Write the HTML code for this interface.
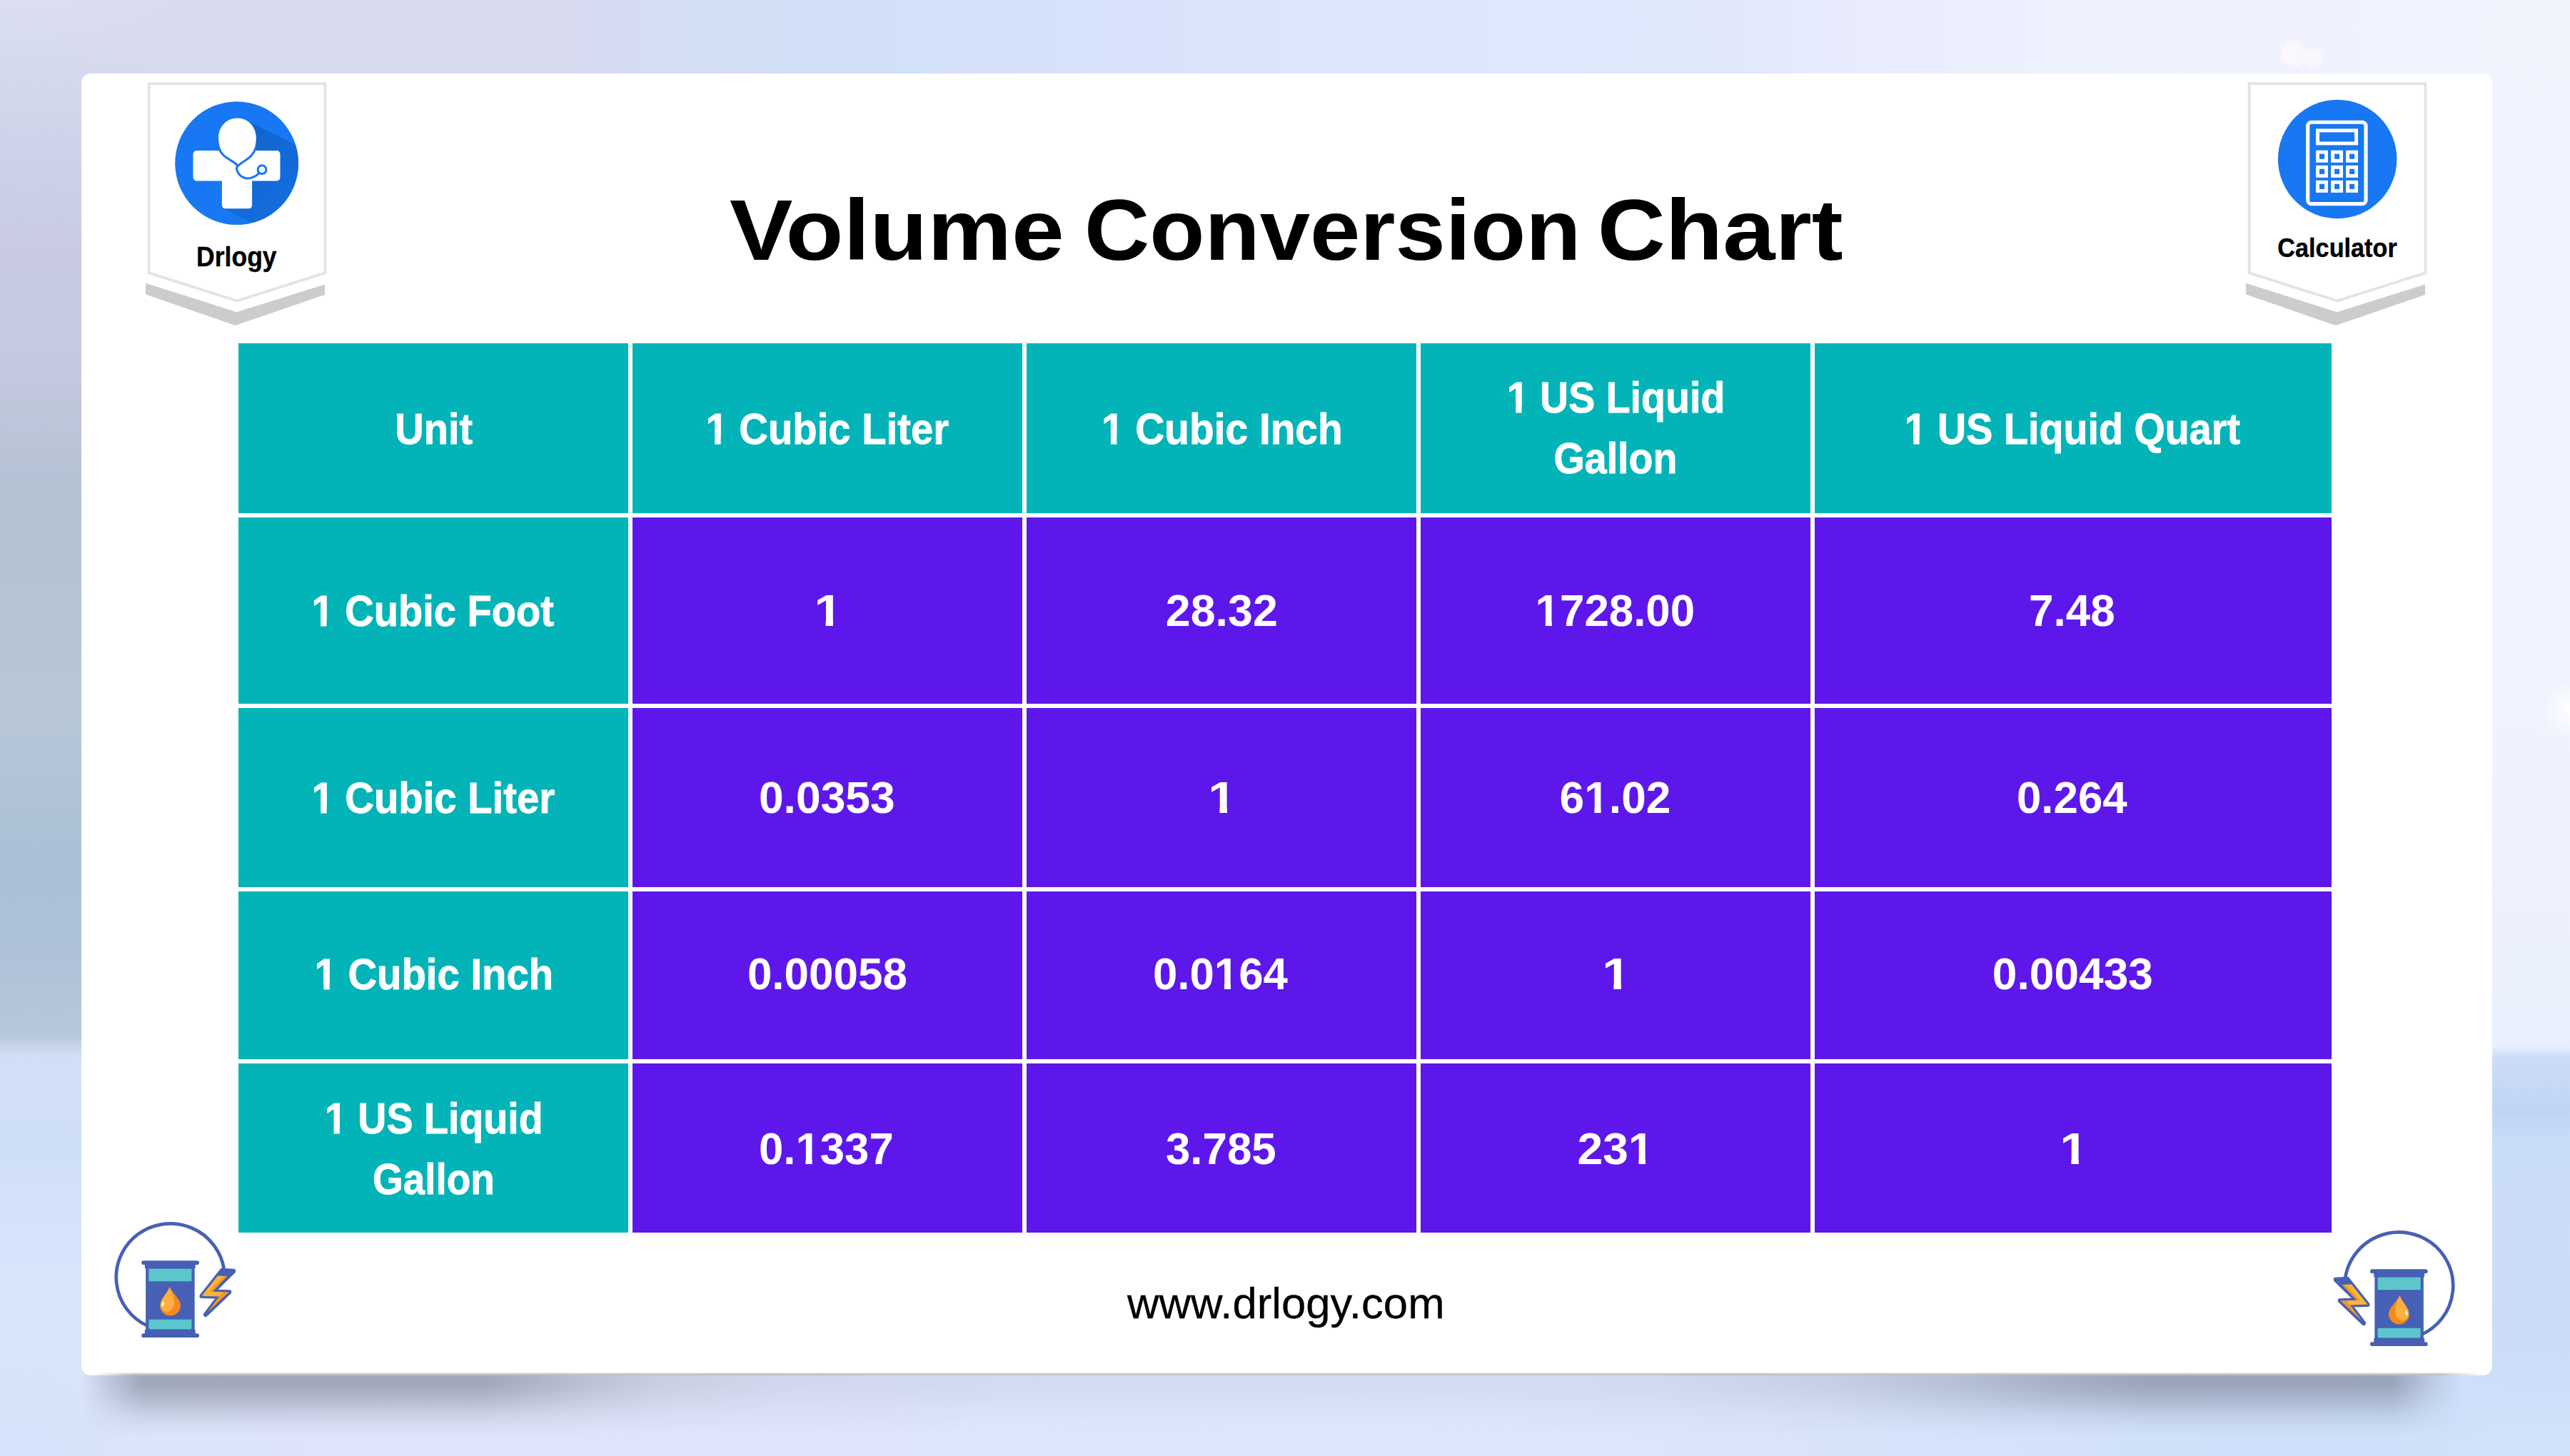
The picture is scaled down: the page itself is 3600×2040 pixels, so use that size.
<!DOCTYPE html>
<html>
<head>
<meta charset="utf-8">
<title>Volume Conversion Chart</title>
<style>
html,body{margin:0;padding:0;}
body{width:3600px;height:2040px;font-family:"Liberation Sans",sans-serif;}
#page{position:relative;width:3600px;height:2040px;overflow:hidden;background:#e4e9fa;}
.abs{position:absolute;}
#bgR{left:0;top:0;width:3600px;height:2040px;
 background:linear-gradient(to bottom,#f1f3fd 0px,#f0f3fe 1020px,#ebf0fd 1400px,#e9effd 1465px,#cbdcf8 1482px,#c6d9f6 1520px,#bfd4f4 1555px,#c9dcf8 1600px,#cbddf9 1750px,#c9dbf8 1850px,#cedffa 1950px,#d4e3fb 2040px);}
#bgL{left:0;top:0;width:1800px;height:2040px;
 background:linear-gradient(to bottom,#dcdff2 0px,#cfd3e9 200px,#c8cbe2 350px,#c6cae0 500px,#bcc5d9 600px,#b3c1d3 700px,#b7c7d8 1000px,#abc0d6 1200px,#adc1d7 1320px,#b6c6da 1420px,#b9c9dc 1452px,#d0ddf5 1478px,#d3e0f8 1500px,#cfdef8 1600px,#d9e5fb 1800px,#d6e3fa 2040px);}
#bgT{left:0;top:0;width:3600px;height:112px;
 background:linear-gradient(to right,rgba(216,218,240,0) 0px,rgba(216,218,240,0) 60px,#d8daf0 300px,#d8daf0 800px,#d5ddf3 900px,#d3e0f6 1000px,#d2e0f8 1250px,#d8e3fb 1600px,#dde6fc 1900px,#e2e9fd 2450px,#e9ecfd 2600px,#eef1fe 2900px,#f0f2fe 3300px,rgba(241,243,254,0) 3540px);}
#bgB{left:0;top:1915px;width:3600px;height:125px;
 background:linear-gradient(to right,rgba(220,229,250,0) 0px,rgba(220,229,250,0) 60px,#dce5fa 250px,#e0e4fa 600px,#e0e5fb 1100px,#dde7fc 1500px,#dee6fb 2200px,#d6e3fa 2700px,#d0e0fa 3100px,#cfe0fa 3350px,rgba(207,224,250,0) 3540px);}
#blob1{left:3194px;top:56px;width:36px;height:38px;border-radius:50%;background:#faf8fc;filter:blur(2.5px);}
#blob2{left:3226px;top:67px;width:27px;height:27px;border-radius:50%;background:#faf8fc;filter:blur(2.5px);}
#shadow{left:114px;top:1922px;width:3377px;height:95px;
 background:linear-gradient(to bottom,rgba(90,95,112,.47) 0px,rgba(90,95,112,.45) 20px,rgba(90,95,112,.31) 40px,rgba(90,95,112,.15) 60px,rgba(90,95,112,.04) 80px,rgba(90,95,112,0) 92px);
 -webkit-mask-image:linear-gradient(to right,rgba(0,0,0,0) 0px,rgba(0,0,0,.35) 30px,#000 85px,#000 560px,rgba(0,0,0,.6) 700px,rgba(0,0,0,.36) 810px,rgba(0,0,0,.22) 980px,rgba(0,0,0,.16) 1500px,rgba(0,0,0,.18) 2200px,rgba(0,0,0,.32) 2450px,rgba(0,0,0,.55) 2620px,rgba(0,0,0,.8) 2760px,#000 2900px,#000 3235px,rgba(0,0,0,.35) 3292px,rgba(0,0,0,0) 3335px);mask-image:linear-gradient(to right,rgba(0,0,0,0) 0px,rgba(0,0,0,.35) 30px,#000 85px,#000 560px,rgba(0,0,0,.6) 700px,rgba(0,0,0,.36) 810px,rgba(0,0,0,.22) 980px,rgba(0,0,0,.16) 1500px,rgba(0,0,0,.18) 2200px,rgba(0,0,0,.32) 2450px,rgba(0,0,0,.55) 2620px,rgba(0,0,0,.8) 2760px,#000 2900px,#000 3235px,rgba(0,0,0,.35) 3292px,rgba(0,0,0,0) 3335px);}
#cardedge{left:128px;top:1922.5px;width:3349px;height:4.5px;background:linear-gradient(to bottom,rgba(150,150,165,0),rgba(150,150,165,.5) 40%,rgba(150,150,170,.65));
 -webkit-mask-image:linear-gradient(to right,rgba(0,0,0,0) 0px,#000 60px,#000 3290px,rgba(0,0,0,0) 3349px);mask-image:linear-gradient(to right,rgba(0,0,0,0) 0px,#000 60px,#000 3290px,rgba(0,0,0,0) 3349px);}
#card{left:114px;top:103px;width:3377px;height:1824px;background:#fff;border-radius:13px;}
.cell{position:absolute;display:flex;align-items:center;justify-content:center;color:#fff;font-weight:bold;font-size:63px;line-height:84.5px;text-align:center;white-space:nowrap;}
.teal{background:#02b4b8;}
.purp{background:#5e17eb;}
.t{display:inline-block;transform-origin:50% 50%;}
#title{left:0;top:240px;width:3600px;text-align:center;font-weight:bold;font-size:120px;line-height:160px;color:#000;white-space:nowrap;}
#url{left:0;top:1790px;width:3600px;text-align:center;font-size:61px;line-height:80px;color:#000;white-space:nowrap;}
.lbl{position:absolute;font-weight:bold;font-size:36.5px;line-height:44px;color:#000;text-align:center;white-space:nowrap;}
#glowR{left:3560px;top:955px;width:80px;height:80px;border-radius:50%;background:radial-gradient(closest-side,rgba(255,255,255,.95) 0%,rgba(255,255,255,.6) 40%,rgba(255,255,255,0) 100%);}
.one{display:inline-block;-webkit-clip-path:polygon(0 0,100% 0,100% calc(42.25px + 0.205em),0.3756em calc(42.25px + 0.205em),0.3756em 100%,0.2284em 100%,0.2284em calc(42.25px + 0.205em),0 calc(42.25px + 0.205em));clip-path:polygon(0 0,100% 0,100% calc(42.25px + 0.205em),0.3756em calc(42.25px + 0.205em),0.3756em 100%,0.2284em 100%,0.2284em calc(42.25px + 0.205em),0 calc(42.25px + 0.205em));}
</style>
</head>
<body>
<div id="page">
<div id="bgR" class="abs"></div>
<div id="bgL" class="abs"></div>
<div id="bgT" class="abs"></div>
<div id="bgB" class="abs"></div>
<div id="glowR" class="abs"></div><div id="blob1" class="abs"></div><div id="blob2" class="abs"></div>
<div id="shadow" class="abs"></div>
<div id="card" class="abs"></div>
<div id="cardedge" class="abs"></div>
<!-- BADGES -->
<svg class="abs" style="left:190px;top:100px" width="300" height="370" viewBox="190 100 300 370">
 <polygon points="204.1,396.7 331.5,437.3 455,398.4 455,413 331,455.6 328,455.6 204.1,412.5" fill="#ccccce"/>
 <path d="M208.6,117.2 H455.5 V382.4 L331.95,421.5 L208.6,382.4 Z" fill="#fff" stroke="#e3e3e4" stroke-width="3.8"/>
</svg>
<svg class="abs" style="left:3132px;top:100px" width="300" height="370" viewBox="190 100 300 370">
 <polygon points="204.1,396.7 331.5,437.3 455,398.4 455,413 331,455.6 328,455.6 204.1,412.5" fill="#ccccce"/>
 <path d="M208.6,117.2 H455.5 V382.4 L331.95,421.5 L208.6,382.4 Z" fill="#fff" stroke="#e3e3e4" stroke-width="3.8"/>
</svg>
<!-- Drlogy logo -->
<svg class="abs" style="left:240px;top:135px" width="185" height="185" viewBox="0 0 1456 1456">
 <defs><clipPath id="lc"><circle cx="721" cy="737" r="680"/></clipPath><linearGradient id="lsh" gradientUnits="userSpaceOnUse" x1="760" y1="560" x2="1380" y2="1180"><stop offset="0" stop-color="#1165cf"/><stop offset="1" stop-color="#146de0"/></linearGradient></defs>
 <circle cx="721" cy="737" r="680" fill="#1877f2"/>
 <polygon clip-path="url(#lc)" points="880,290 1456,580 1456,1456 1000,1456 565,1228" fill="url(#lsh)"/>
 <rect x="240" y="598" width="960" height="334" rx="38" fill="#fff"/>
 <rect x="558" y="700" width="332" height="538" rx="38" fill="#fff"/>
 <path d="M727,240 C845,240 935,335 935,455 C935,540 915,600 880,650 C850,690 790,720 735,765 C690,720 620,690 580,650 C545,600 520,540 520,455 C520,335 610,240 727,240 Z" fill="#fff"/>
 <path d="M929,570 C920,605 903,630 880,655 C850,690 790,720 735,765 M525,570 C533,605 555,630 580,655 C620,690 690,720 735,765 C700,790 735,865 790,893 C850,922 930,890 972,842" fill="none" stroke="#1877f2" stroke-width="24" stroke-linecap="round" stroke-linejoin="round"/>
 <circle cx="1000" cy="808" r="46" fill="#fff" stroke="#1877f2" stroke-width="24"/>
</svg>
<div class="lbl" style="left:208px;top:330px;width:247px;font-size:39.5px;"><span class="t" id="lblL" style="-webkit-text-stroke:0.4px #000;transform:translate(-0.20px,6.82px) scaleX(0.8989);">Drlogy</span></div>
<!-- Calculator logo -->
<svg class="abs" style="left:3185px;top:135px" width="180" height="180" viewBox="0 0 1456 1456">
 <circle cx="721.5" cy="711.5" r="673.5" fill="#1877f2"/>
 <rect x="386" y="293" width="658" height="926" rx="42" fill="none" stroke="#fff" stroke-width="42"/>
 <rect x="498" y="387" width="437" height="146" fill="none" stroke="#fff" stroke-width="40"/>
 <g fill="none" stroke="#fff" stroke-width="40">
  <rect x="498" y="632" width="97" height="98"/><rect x="668" y="632" width="97" height="98"/><rect x="838" y="632" width="97" height="98"/>
  <rect x="498" y="803" width="97" height="98"/><rect x="668" y="803" width="97" height="98"/><rect x="838" y="803" width="97" height="98"/>
  <rect x="498" y="973" width="97" height="98"/><rect x="668" y="973" width="97" height="98"/><rect x="838" y="973" width="97" height="98"/>
 </g>
</svg>
<div class="lbl" style="left:3150px;top:320px;width:247px;font-size:36.5px;"><span class="t" id="lblR" style="-webkit-text-stroke:0.4px #000;transform:translate(0.80px,6.06px) scaleX(0.9378);">Calculator</span></div>
<div id="title" class="abs"><span class="t" id="tV" style="transform:translate(-23.85px,1.82px) scaleX(1.1043);">Volume</span> <span class="t" id="tC" style="transform:translate(10.60px,1.82px) scaleX(1.0537);">Conversion</span> <span class="t" id="tH" style="transform:translate(34.00px,1.82px) scaleX(1.0977);">Chart</span></div>
<div class="cell teal" style="left:334px;top:481px;width:546px;height:238px;"><span class="t" id="c00" style="font-size:62px;-webkit-text-stroke:0.8px #fff;transform:translate(0.50px,0.70px) scaleX(0.9037);">Unit</span></div>
<div class="cell teal" style="left:886px;top:481px;width:546px;height:238px;"><span class="t" id="c01" style="font-size:62px;-webkit-text-stroke:0.8px #fff;transform:translate(0.00px,0.70px) scaleX(0.9071);"><span class="one">1</span> Cubic Liter</span></div>
<div class="cell teal" style="left:1437.5px;top:481px;width:546.5px;height:238px;"><span class="t" id="c02" style="font-size:62px;-webkit-text-stroke:0.8px #fff;transform:translate(1.50px,0.70px) scaleX(0.9160);"><span class="one">1</span> Cubic Inch</span></div>
<div class="cell teal" style="left:1989.5px;top:481px;width:546.5px;height:238px;"><div><span class="t" id="c03a" style="font-size:62px;-webkit-text-stroke:0.8px #fff;transform:translate(1.00px,-1.10px) scaleX(0.8964);"><span class="one">1</span> US Liquid</span><br><span class="t" id="c03b" style="font-size:62px;-webkit-text-stroke:0.8px #fff;transform:translate(0.50px,-0.55px) scaleX(0.8968);">Gallon</span></div></div>
<div class="cell teal" style="left:2541.5px;top:481px;width:724.5px;height:238px;"><span class="t" id="c04" style="font-size:62px;-webkit-text-stroke:0.8px #fff;transform:translate(-1.00px,0.70px) scaleX(0.8982);"><span class="one">1</span> US Liquid Quart</span></div>
<div class="cell teal" style="left:334px;top:724.5px;width:546px;height:261.5px;"><span class="t" id="c10" style="font-size:62px;-webkit-text-stroke:0.8px #fff;transform:translate(-0.50px,0.85px) scaleX(0.9045);"><span class="one">1</span> Cubic Foot</span></div>
<div class="cell purp" style="left:886px;top:724.5px;width:546px;height:261.5px;"><span class="t" id="c11" style="transform:translate(1.60px,0.16px) scaleX(1.1256);"><span class="one">1</span></span></div>
<div class="cell purp" style="left:1437.5px;top:724.5px;width:546.5px;height:261.5px;"><span class="t" id="c12" style="transform:translate(0.50px,0.16px) scaleX(0.9954);">28.32</span></div>
<div class="cell purp" style="left:1989.5px;top:724.5px;width:546.5px;height:261.5px;"><span class="t" id="c13" style="transform:translate(-0.50px,0.16px) scaleX(0.9815);"><span class="one">1</span>728.00</span></div>
<div class="cell purp" style="left:2541.5px;top:724.5px;width:724.5px;height:261.5px;"><span class="t" id="c14" style="transform:translate(-1.00px,0.16px) scaleX(0.9842);">7.48</span></div>
<div class="cell teal" style="left:334px;top:991.5px;width:546px;height:251.5px;"><span class="t" id="c20" style="font-size:62px;-webkit-text-stroke:0.8px #fff;transform:translate(0.00px,0.75px) scaleX(0.9070);"><span class="one">1</span> Cubic Liter</span></div>
<div class="cell purp" style="left:886px;top:991.5px;width:546px;height:251.5px;"><span class="t" id="c21" style="transform:translate(-1.00px,0.26px) scaleX(0.9907);">0.0353</span></div>
<div class="cell purp" style="left:1437.5px;top:991.5px;width:546.5px;height:251.5px;"><span class="t" id="c22" style="transform:translate(1.49px,0.26px) scaleX(1.1252);"><span class="one">1</span></span></div>
<div class="cell purp" style="left:1989.5px;top:991.5px;width:546.5px;height:251.5px;"><span class="t" id="c23" style="transform:translate(-0.35px,0.26px) scaleX(0.9883);">6<span class="one">1</span>.02</span></div>
<div class="cell purp" style="left:2541.5px;top:991.5px;width:724.5px;height:251.5px;"><span class="t" id="c24" style="transform:translate(-1.50px,0.26px) scaleX(0.9818);">0.264</span></div>
<div class="cell teal" style="left:334px;top:1248.5px;width:546px;height:235.5px;"><span class="t" id="c30" style="font-size:62px;-webkit-text-stroke:0.8px #fff;transform:translate(0.50px,-1.25px) scaleX(0.9075);"><span class="one">1</span> Cubic Inch</span></div>
<div class="cell purp" style="left:886px;top:1248.5px;width:546px;height:235.5px;"><span class="t" id="c31" style="transform:translate(0.00px,-1.94px) scaleX(0.9834);">0.00058</span></div>
<div class="cell purp" style="left:1437.5px;top:1248.5px;width:546.5px;height:235.5px;"><span class="t" id="c32" style="transform:translate(-1.00px,-1.94px) scaleX(0.9804);">0.0<span class="one">1</span>64</span></div>
<div class="cell purp" style="left:1989.5px;top:1248.5px;width:546.5px;height:235.5px;"><span class="t" id="c33" style="transform:translate(1.40px,-1.94px) scaleX(1.1298);"><span class="one">1</span></span></div>
<div class="cell purp" style="left:2541.5px;top:1248.5px;width:724.5px;height:235.5px;"><span class="t" id="c34" style="transform:translate(-0.50px,-1.94px) scaleX(0.9880);">0.00433</span></div>
<div class="cell teal" style="left:334px;top:1489.5px;width:546px;height:237.5px;"><div><span class="t" id="c40a" style="font-size:62px;-webkit-text-stroke:0.8px #fff;transform:translate(1.30px,1.40px) scaleX(0.8969);"><span class="one">1</span> US Liquid</span><br><span class="t" id="c40b" style="font-size:62px;-webkit-text-stroke:0.8px #fff;transform:translate(0.00px,1.30px) scaleX(0.8861);">Gallon</span></div></div>
<div class="cell purp" style="left:886px;top:1489.5px;width:546px;height:237.5px;"><span class="t" id="c41" style="transform:translate(-2.00px,1.16px) scaleX(0.9798);">0.<span class="one">1</span>337</span></div>
<div class="cell purp" style="left:1437.5px;top:1489.5px;width:546.5px;height:237.5px;"><span class="t" id="c42" style="transform:translate(-0.50px,1.16px) scaleX(0.9818);">3.785</span></div>
<div class="cell purp" style="left:1989.5px;top:1489.5px;width:546.5px;height:237.5px;"><span class="t" id="c43" style="transform:translate(0.45px,1.16px) scaleX(1.0187);">23<span class="one">1</span></span></div>
<div class="cell purp" style="left:2541.5px;top:1489.5px;width:724.5px;height:237.5px;"><span class="t" id="c44" style="transform:translate(1.39px,1.16px) scaleX(1.1238);"><span class="one">1</span></span></div>
<div id="url" class="abs"><span class="t" id="urlt" style="-webkit-text-stroke:0.3px #000;transform:translate(1.50px,-4.04px) scaleX(1.0115);">www.drlogy.com</span></div>
<!-- ICONS -->
<svg class="abs" style="left:150px;top:1700px" width="200" height="190" viewBox="0 0 1533 1456">
 <g>
 <path d="M434,1208.5 A582,576 0 1 1 1256,605" fill="none" stroke="#4560b5" stroke-width="36"/>
 <rect x="370" y="508" width="618" height="44" rx="22" fill="#4560b5"/>
 <rect x="405" y="540" width="543" height="55" rx="14" fill="#4560b5"/>
 <rect x="415" y="560" width="525" height="730" fill="#4560b5"/>
 <rect x="405" y="1245" width="543" height="55" rx="14" fill="#4560b5"/>
 <rect x="370" y="1290" width="618" height="44" rx="22" fill="#4560b5"/>
 <rect x="447" y="595" width="461" height="135" fill="#5cc6cc"/>
 <path d="M447,1140 H908 V1225 Q908,1245 888,1245 H467 Q447,1245 447,1225 Z" fill="#5cc6cc"/>
 <path d="M672,783 C700,860 790,920 790,988 A111,111 0 0 1 568,988 C568,920 645,860 672,783 Z" fill="#f5891f"/>
 <path d="M672,795 C690,850 722,900 722,960 C722,1010 690,1050 640,1062 C598,1050 575,1020 575,985 C575,925 648,860 672,795 Z" fill="#fbb040"/>
 <ellipse cx="600" cy="975" rx="11" ry="27" fill="#fff" transform="rotate(12 600 975)"/>
 <polygon points="1234,612 1358,620 1136,840 1312,845 1058,1088 1204,893 1016,888" fill="#4560b5" stroke="#4560b5" stroke-width="48" stroke-linejoin="round"/>
 <polygon points="1188,670 1289,675 1130,842 1305,846 1085,1053 1206,892 1016,887" fill="#fab535"/>
 <polygon points="1260,675 1289,675 1130,842 1099,842" fill="#f7941d"/>
 <polygon points="1305,846 1085,1053 1206,892 1240,850" fill="#f7941d"/>
 </g>
</svg>
<svg class="abs" style="left:3249px;top:1712px" width="200" height="190" viewBox="0 0 1533 1456">
 <g transform="translate(1533,0) scale(-1,1)">
 <path d="M434,1208.5 A582,576 0 1 1 1256,605" fill="none" stroke="#4560b5" stroke-width="36"/>
 <rect x="370" y="508" width="618" height="44" rx="22" fill="#4560b5"/>
 <rect x="405" y="540" width="543" height="55" rx="14" fill="#4560b5"/>
 <rect x="415" y="560" width="525" height="730" fill="#4560b5"/>
 <rect x="405" y="1245" width="543" height="55" rx="14" fill="#4560b5"/>
 <rect x="370" y="1290" width="618" height="44" rx="22" fill="#4560b5"/>
 <rect x="447" y="595" width="461" height="135" fill="#5cc6cc"/>
 <path d="M447,1140 H908 V1225 Q908,1245 888,1245 H467 Q447,1245 447,1225 Z" fill="#5cc6cc"/>
 <path d="M672,783 C700,860 790,920 790,988 A111,111 0 0 1 568,988 C568,920 645,860 672,783 Z" fill="#f5891f"/>
 <path d="M672,795 C690,850 722,900 722,960 C722,1010 690,1050 640,1062 C598,1050 575,1020 575,985 C575,925 648,860 672,795 Z" fill="#fbb040"/>
 <ellipse cx="600" cy="975" rx="11" ry="27" fill="#fff" transform="rotate(12 600 975)"/>
 <polygon points="1234,612 1358,620 1136,840 1312,845 1058,1088 1204,893 1016,888" fill="#4560b5" stroke="#4560b5" stroke-width="48" stroke-linejoin="round"/>
 <polygon points="1188,670 1289,675 1130,842 1305,846 1085,1053 1206,892 1016,887" fill="#fab535"/>
 <polygon points="1260,675 1289,675 1130,842 1099,842" fill="#f7941d"/>
 <polygon points="1305,846 1085,1053 1206,892 1240,850" fill="#f7941d"/>
 </g>
</svg>
</div>
</body>
</html>
